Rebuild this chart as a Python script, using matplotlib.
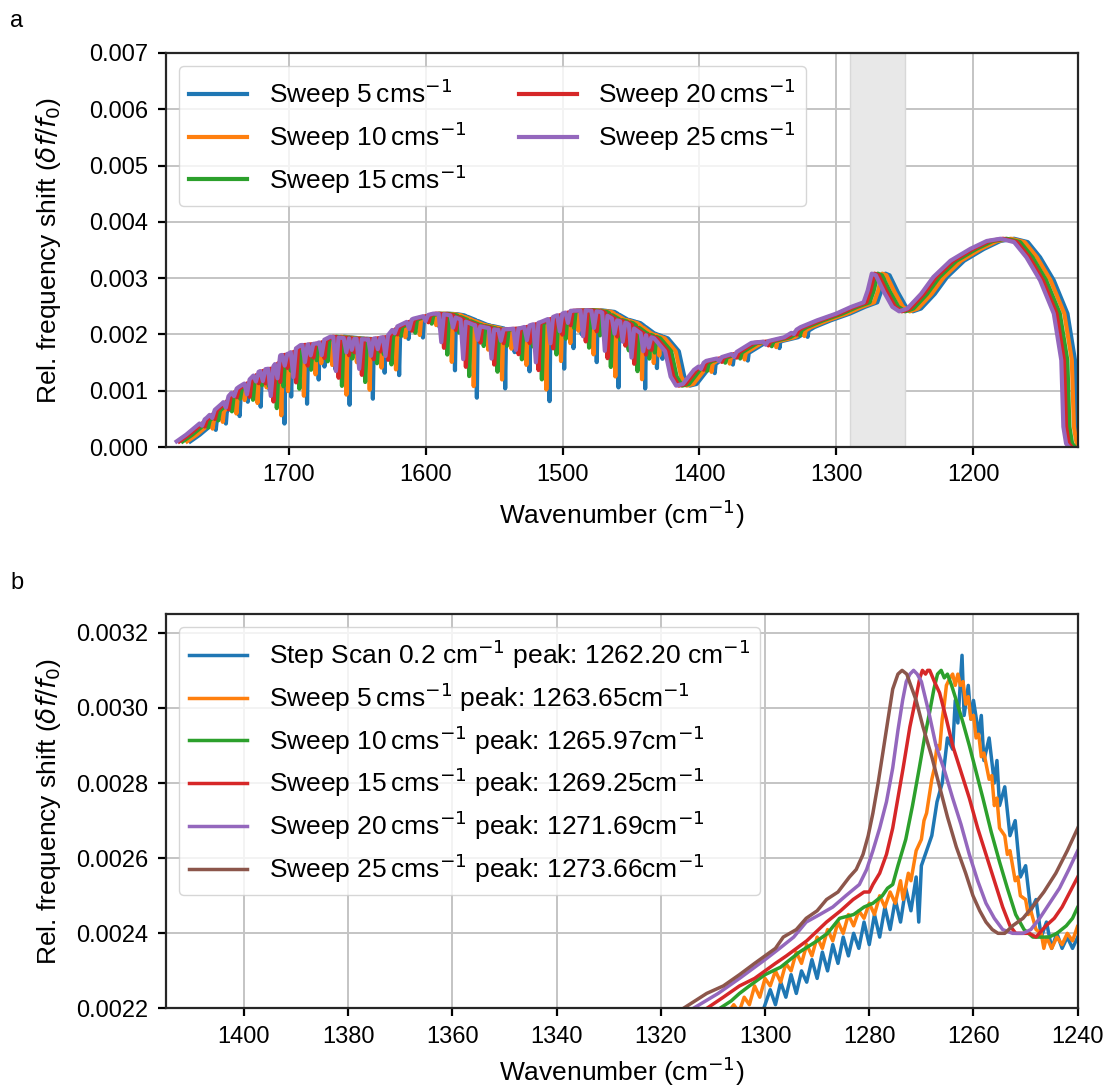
## plot of sweep-rate dependence of the frequency-shift spectrum
import numpy as np
import matplotlib
matplotlib.use("Agg")
import matplotlib.pyplot as plt
from matplotlib.ticker import MultipleLocator

plt.rcParams['font.family'] = ['Liberation Sans', 'DejaVu Sans']
plt.rcParams['font.size'] = 18
plt.rcParams['xtick.labelsize'] = 17
plt.rcParams['ytick.labelsize'] = 17
plt.rcParams['axes.labelsize'] = 19
plt.rcParams['legend.fontsize'] = 19
plt.rcParams['axes.edgecolor'] = '#262626'
plt.rcParams['axes.linewidth'] = 1.6
plt.rcParams['xtick.major.width'] = 1.6
plt.rcParams['ytick.major.width'] = 1.6
plt.rcParams['xtick.major.size'] = 5.5
plt.rcParams['ytick.major.size'] = 5.5
plt.rcParams['xtick.major.pad'] = 7
plt.rcParams['ytick.major.pad'] = 7
plt.rcParams['grid.color'] = '#c4c4c4'
plt.rcParams['grid.linewidth'] = 1.4

colors = ['#1f77b4', '#ff7f0e', '#2ca02c', '#d62728', '#9467bd', '#8c564b']

## ---- panel a data ----
speeds = [5, 10, 15, 20, 25]
# peak positions of the 1270 band, taken from legend of panel b
peak_pos = [1263.65, 1265.97, 1269.25, 1271.69, 1273.66]
ref_peak = 1273.66
# how deep the absorption dips stay for each sweep speed (5 cms-1 = 1)
dip_factor = [1.0, 0.85, 0.72, 0.6, 0.5]
dip_width = [0.7, 0.9, 1.2, 1.5, 1.9]

# upper envelope of the 25 cms-1 sweep
env_wn = [1782, 1775, 1766.7, 1760, 1754.6, 1748.5, 1741.3, 1736.4, 1730.3, 1724.3,
          1718.2, 1712.1, 1706.1, 1700, 1691.5, 1679.4, 1669.7, 1657.5, 1643, 1628.4,
          1623.5, 1609, 1594.4, 1587, 1582, 1565, 1548, 1531, 1516, 1504,
          1494, 1482, 1472, 1463, 1453, 1443, 1433, 1425, 1421, 1417,
          1412, 1404, 1395, 1386, 1374, 1362, 1350, 1338, 1326, 1314,
          1300, 1289, 1280, 1277, 1274, 1271, 1265, 1259, 1254, 1248,
          1238, 1229, 1216.5, 1202, 1190, 1180, 1170, 1161, 1151, 1141,
          1135.5, 1134, 1132, 1130]
env_val = [0.0001, 0.00022, 0.00039, 0.00052, 0.00065, 0.00078, 0.00098, 0.00107, 0.00116, 0.00131,
           0.00138, 0.0014, 0.00163, 0.00166, 0.00181, 0.00184, 0.00196, 0.00193, 0.00191, 0.00196,
           0.00211, 0.00228, 0.00237, 0.00236, 0.00234, 0.00217, 0.00208, 0.00211, 0.00222, 0.00234,
           0.00242, 0.00243, 0.0024, 0.00227, 0.0022, 0.00202, 0.00193, 0.0017, 0.00125, 0.00109,
           0.00112, 0.00137, 0.00153, 0.00158, 0.00167, 0.00185, 0.00188, 0.00195, 0.00213, 0.00225,
           0.00237, 0.00249, 0.00257, 0.00278, 0.00308, 0.00305, 0.00275, 0.00249, 0.00241, 0.00246,
           0.00272, 0.00302, 0.00331, 0.00352, 0.00366, 0.0037, 0.00364, 0.00337, 0.00296, 0.00237,
           0.00154, 0.00036, 0.00006, 0.0]

# water vapour dips (position in the 25 cms-1 frame, depth seen at 5 cms-1)
dip_wn = [1763.4, 1756, 1746, 1740, 1730.6, 1724, 1719, 1713.2, 1708.3, 1703,
          1696.7, 1688.2, 1684, 1676, 1665.6, 1658, 1654, 1648.6, 1640, 1635,
          1629.4, 1622.6, 1612, 1600, 1588.6, 1580, 1572.6, 1562, 1551.9, 1545,
          1534.1, 1526, 1519.5, 1508.8, 1502, 1496, 1485, 1477, 1469.1, 1462,
          1456, 1449.6, 1441, 1437, 1398.8, 1385.5, 1374.6, 1351.5, 1330.9]
dip_depth = [0.00015, 0.0002, 0.0003, 0.0002, 0.00044, 0.0003, 0.0004, 0.00098, 0.00065, 0.0004,
             0.00095, 0.00062, 0.0004, 0.0005, 0.0012, 0.0005, 0.0004, 0.00106, 0.0006, 0.0004,
             0.00068, 0.0002, 0.0003, 0.0002, 0.001, 0.0004, 0.00137, 0.0005, 0.00106, 0.0004,
             0.00076, 0.0005, 0.00138, 0.0009, 0.0006, 0.0004, 0.00092, 0.0006, 0.0013, 0.0005,
             0.0007, 0.0011, 0.0006, 0.0004, 0.00015, 0.00012, 0.00013, 0.00012, 0.0001]

## ---- panel b data ----
step_wn = [1300.5, 1299, 1298, 1297, 1296, 1295, 1294, 1293, 1292, 1291, 1290, 1289, 1288, 1287,
           1286, 1285, 1284, 1283, 1282, 1281, 1280, 1279, 1278, 1277, 1276, 1275, 1274, 1273,
           1272, 1271, 1270.5, 1270, 1269, 1268, 1267, 1266, 1265, 1264, 1263.5, 1263, 1262.2,
           1261.8, 1261, 1260.5, 1260, 1259, 1258.5, 1258, 1257, 1256, 1255.5, 1255, 1254, 1253,
           1252, 1251, 1250, 1249, 1248, 1247, 1246, 1245, 1244, 1243, 1242, 1241, 1240]
step_val = [0.00219, 0.00225, 0.00221, 0.00227, 0.00223, 0.00229, 0.00224, 0.0023, 0.00227, 0.00233,
            0.00228, 0.00235, 0.0023, 0.00237, 0.00232, 0.00239, 0.00234, 0.0024, 0.00236, 0.00243,
            0.00237, 0.00245, 0.00239, 0.00247, 0.00241, 0.00249, 0.00243, 0.00252, 0.00246, 0.00255,
            0.00243, 0.00258, 0.00262, 0.00266, 0.00275, 0.0028, 0.00292, 0.00289, 0.00302, 0.00296,
            0.00314, 0.00298, 0.00306, 0.00297, 0.00302, 0.00293, 0.00298, 0.00286, 0.00292, 0.0028,
            0.00286, 0.00274, 0.00279, 0.00266, 0.0027, 0.00255, 0.00258, 0.00246, 0.00249, 0.00239,
            0.00243, 0.00236, 0.0024, 0.00236, 0.00239, 0.00236, 0.00239]

s5_wn = [1307.5, 1306, 1305, 1304, 1303, 1302, 1301, 1300, 1299, 1298, 1297, 1296, 1295, 1294,
         1293, 1292, 1291, 1290, 1289, 1288, 1287, 1286, 1285, 1284, 1283, 1282, 1281, 1280,
         1279, 1278, 1277, 1276, 1275, 1274, 1273.5, 1272.5, 1272, 1271, 1270, 1269.5, 1269, 1268,
         1267.5, 1267, 1266.5, 1266, 1265.6, 1265.2, 1264.5, 1264, 1263.5, 1263, 1262.5, 1262,
         1261.5, 1261, 1260.5, 1260, 1259.5, 1259, 1258.5, 1258, 1257, 1256.5, 1256, 1255.5, 1255,
         1254, 1253.5, 1253, 1252, 1251.5, 1251, 1250, 1249.5, 1249, 1248, 1247, 1246.5, 1246,
         1245, 1244, 1243, 1242, 1241, 1240, 1238]
s5_val = [0.00218, 0.00221, 0.00219, 0.00223, 0.00221, 0.00226, 0.00223, 0.00228, 0.00226, 0.0023,
          0.00227, 0.00232, 0.0023, 0.00235, 0.00232, 0.00237, 0.00234, 0.00239, 0.00236, 0.00241,
          0.00238, 0.00243, 0.0024, 0.00245, 0.00242, 0.00246, 0.00244, 0.00248, 0.00245, 0.0025,
          0.00247, 0.00251, 0.00248, 0.00254, 0.00249, 0.00256, 0.00254, 0.00262, 0.00265, 0.0027,
          0.00272, 0.00281, 0.00284, 0.0029, 0.00289, 0.00297, 0.00301, 0.00306, 0.00308, 0.00309,
          0.00306, 0.00309, 0.00306, 0.00307, 0.00301, 0.00303, 0.00297, 0.00298, 0.00292, 0.00293,
          0.00287, 0.00288, 0.00281, 0.00282, 0.00274, 0.00276, 0.00268, 0.00266, 0.00261, 0.00262,
          0.00254, 0.00255, 0.0025, 0.00249, 0.00245, 0.00246, 0.00241, 0.0024, 0.00236, 0.00239,
          0.00236, 0.00239, 0.00237, 0.0024, 0.00238, 0.00242, 0.00244]

s10_wn = [1311, 1308.7, 1306.5, 1304.9, 1303, 1300, 1297, 1293.4, 1290, 1288, 1285.7, 1283, 1281,
          1279.3, 1277.5, 1276.5, 1275.5, 1274.5, 1273, 1271.7, 1270.4, 1269.4, 1268.4, 1267.6,
          1266.9, 1266.2, 1265.6, 1265, 1264.2, 1263.3, 1262, 1260.8, 1259.5, 1258.2, 1256.6, 1255,
          1253.5, 1251.9, 1250.3, 1248.6, 1247, 1245.5, 1244, 1242.2, 1241, 1240, 1238]
s10_val = [0.00218, 0.0022, 0.00222, 0.00224, 0.00226, 0.00229, 0.00231, 0.00235, 0.00238, 0.0024,
           0.00244, 0.00245, 0.00247, 0.00248, 0.0025, 0.00252, 0.00253, 0.00258, 0.00265, 0.00274,
           0.00284, 0.00292, 0.00299, 0.00305, 0.00309, 0.0031, 0.00308, 0.00309, 0.00306, 0.00302,
           0.00296, 0.0029, 0.00283, 0.00276, 0.00267, 0.00259, 0.00252, 0.00245, 0.00241, 0.00239,
           0.00239, 0.00239, 0.0024, 0.00242, 0.00244, 0.00247, 0.00251]

s15_wn = [1313, 1311.2, 1308, 1304.9, 1302, 1300, 1298, 1295.9, 1292, 1288.2, 1285.5, 1283.1, 1281,
          1280, 1279.3, 1278, 1276.7, 1275.5, 1274.5, 1273.5, 1272.2, 1271, 1270.3, 1269.8, 1269.2,
          1268.8, 1268.4, 1267.5, 1266.5, 1265.2, 1264, 1262.4, 1260.8, 1259.2, 1257.6, 1256,
          1254.4, 1253, 1251.9, 1250.5, 1249.3, 1248, 1246.1, 1244.5, 1243, 1241.5, 1240, 1238]
s15_val = [0.00218, 0.0022, 0.00223, 0.00226, 0.00228, 0.0023, 0.00232, 0.00234, 0.00238, 0.00243,
           0.00246, 0.00249, 0.00251, 0.00251, 0.00253, 0.00256, 0.00261, 0.00268, 0.00276, 0.00284,
           0.00295, 0.00303, 0.00308, 0.0031, 0.00309, 0.0031, 0.0031, 0.00307, 0.00304, 0.00297,
           0.0029, 0.00283, 0.00276, 0.00268, 0.00261, 0.00254, 0.00247, 0.00242, 0.0024, 0.0024,
           0.0024, 0.00239, 0.00242, 0.00244, 0.00247, 0.00251, 0.00255, 0.0026]

s20_wn = [1316, 1313.8, 1309, 1304.9, 1300, 1297.2, 1294.5, 1292.1, 1289.5, 1287, 1284.5, 1281.9,
          1280.5, 1279.3, 1278, 1276.7, 1275.5, 1274.5, 1273.6, 1272.9, 1272.2, 1271.5, 1270.8,
          1270, 1268.6, 1267.2, 1265.5, 1264, 1262.4, 1260.8, 1259.2, 1257.6, 1256, 1254.4, 1252.5,
          1250.5, 1249, 1247.3, 1245.4, 1243.5, 1241.7, 1240, 1238]
s20_val = [0.00218, 0.0022, 0.00224, 0.00228, 0.00233, 0.00236, 0.00239, 0.00243, 0.00245, 0.00247,
           0.0025, 0.00253, 0.00257, 0.00262, 0.00268, 0.00275, 0.00284, 0.00294, 0.00302, 0.00307,
           0.00309, 0.0031, 0.00309, 0.00307, 0.00299, 0.0029, 0.00283, 0.00276, 0.00269, 0.00261,
           0.00254, 0.00248, 0.00244, 0.00241, 0.0024, 0.0024, 0.00241, 0.00244, 0.00248, 0.00252,
           0.00257, 0.00262, 0.00267]

s25_wn = [1318, 1315.7, 1311.2, 1308, 1304.9, 1302, 1300, 1298, 1296.5, 1294, 1292.1, 1290, 1288.2,
          1286, 1283.8, 1282.5, 1281.2, 1280.2, 1279.3, 1278.3, 1277.4, 1276.4, 1275.5, 1274.5,
          1273.7, 1272.8, 1272.3, 1271, 1269.7, 1268, 1266.5, 1265, 1263.3, 1261.5, 1260.1, 1258.8,
          1257.6, 1256.4, 1255.3, 1254, 1252.5, 1250.5, 1248.7, 1246.5, 1244.2, 1242, 1240, 1238]
s25_val = [0.00218, 0.0022, 0.00224, 0.00226, 0.00229, 0.00232, 0.00234, 0.00236, 0.00239, 0.00241,
           0.00244, 0.00246, 0.00249, 0.00251, 0.00255, 0.00257, 0.00261, 0.00266, 0.00272, 0.0028,
           0.00288, 0.00297, 0.00305, 0.00309, 0.0031, 0.00309, 0.00307, 0.00302, 0.00295, 0.00287,
           0.00279, 0.00271, 0.00263, 0.00256, 0.0025, 0.00246, 0.00243, 0.00241, 0.0024, 0.0024,
           0.00242, 0.00244, 0.00247, 0.00251, 0.00256, 0.00262, 0.00268, 0.00274]

labels_b = [r'Step Scan 0.2 cm$^{-1}$ peak: 1262.20 cm$^{-1}$',
            r'Sweep 5$\,$cms$^{-1}$ peak: 1263.65cm$^{-1}$',
            r'Sweep 10$\,$cms$^{-1}$ peak: 1265.97cm$^{-1}$',
            r'Sweep 15$\,$cms$^{-1}$ peak: 1269.25cm$^{-1}$',
            r'Sweep 20$\,$cms$^{-1}$ peak: 1271.69cm$^{-1}$',
            r'Sweep 25$\,$cms$^{-1}$ peak: 1273.66cm$^{-1}$']


## build one sweep curve of panel a from envelope + dips
def sweep_curve(shift, factor, width):
    ex = np.array(env_wn[::-1])
    ey = np.array(env_val[::-1])
    pts = []
    for x, y in zip(ex, ey):
        if all(abs(x - p) > width for p in dip_wn):
            pts.append((x, y))
    for p, d in zip(dip_wn, dip_depth):
        top_l = np.interp(p + width, ex, ey)
        top_r = np.interp(p - width, ex, ey)
        mid = np.interp(p, ex, ey)
        pts.append((p + width, top_l))
        pts.append((p, mid - d * factor))
        pts.append((p - width, top_r))
    pts.sort(key=lambda t: -t[0])
    xs = np.array([t[0] for t in pts]) + shift
    ys = np.array([t[1] for t in pts])
    return xs, ys


fig = plt.figure(figsize=(11.09, 10.9), dpi=100)
ax1 = fig.add_axes([0.1494, 0.5899, 0.8224, 0.3615])
ax2 = fig.add_axes([0.1494, 0.0748, 0.8224, 0.3619])

# panel a
ax1.set_axisbelow(True)
ax1.grid(True)
ax1.axvspan(1250, 1290, facecolor='#e8e8e8', edgecolor='#d8d8d8', lw=1, zorder=0.6)
for i, sp in enumerate(speeds):
    xs, ys = sweep_curve(peak_pos[i] - ref_peak, dip_factor[i], dip_width[i])
    ax1.plot(xs, ys, color=colors[i], lw=3, label='Sweep %d$\\,$cms$^{-1}$' % sp)
ax1.set_xlim(1790, 1123.5)
ax1.set_ylim(0, 0.007)
ax1.set_xlabel('Wavenumber (cm$^{-1}$)', labelpad=8)
ax1.set_ylabel(r'Rel. frequency shift ($\delta f/f_0$)')
ax1.yaxis.set_label_coords(-0.113, 0.5)
ax1.legend(loc='upper left', ncol=2, handlelength=2.2, columnspacing=2.0,
           labelspacing=0.35, fancybox=True, framealpha=0.8, edgecolor='#cccccc')

# panel b
ax2.set_axisbelow(True)
ax2.grid(True)
curves_b = [(step_wn, step_val), (s5_wn, s5_val), (s10_wn, s10_val),
            (s15_wn, s15_val), (s20_wn, s20_val), (s25_wn, s25_val)]
for i, (wn, val) in enumerate(curves_b):
    ax2.plot(wn, val, color=colors[i], lw=2.5, label=labels_b[i])
ax2.set_xlim(1415, 1240)
ax2.set_ylim(0.0022, 0.00325)
ax2.xaxis.set_major_locator(MultipleLocator(20))
ax2.yaxis.set_major_locator(MultipleLocator(0.0002))
ax2.set_xlabel('Wavenumber (cm$^{-1}$)', labelpad=5)
ax2.set_ylabel(r'Rel. frequency shift ($\delta f/f_0$)')
ax2.yaxis.set_label_coords(-0.113, 0.5)
ax2.legend(loc='upper left', handlelength=2.2, labelspacing=0.35, fancybox=True,
           framealpha=0.8, edgecolor='#cccccc')

fig.text(0.009, 0.975, 'a', fontsize=17)
fig.text(0.009, 0.460, 'b', fontsize=17)

fig.savefig('out.png', dpi=100)
